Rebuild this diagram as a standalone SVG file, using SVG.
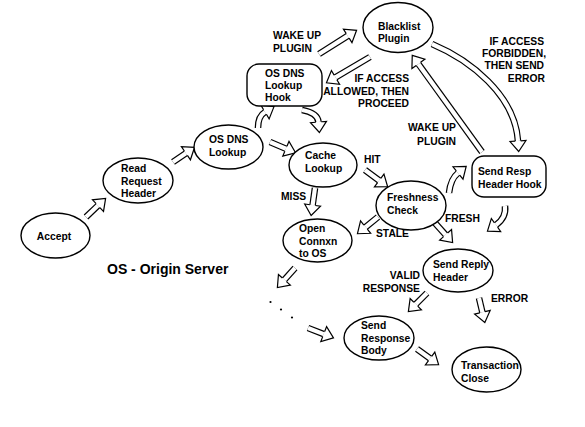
<svg xmlns="http://www.w3.org/2000/svg" width="585" height="427" viewBox="0 0 585 427">
<defs>
<style>
.nd{fill:#fff;stroke:#000;stroke-width:1.4}
text{font-family:"Liberation Sans",Arial,sans-serif;font-weight:bold;font-size:10.3px;fill:#000}
.so{fill:none;stroke:#000;stroke-width:6.6}
.si{fill:none;stroke:#fff;stroke-width:4.2;marker-end:url(#head)}
.r{text-anchor:end}
.c{text-anchor:middle}
</style>
<marker id="head" markerUnits="userSpaceOnUse" orient="auto" refX="0" refY="0" markerWidth="30" markerHeight="30" overflow="visible">
<path d="M0,-2.7 L0,-8 L10.5,0 L0,8 L0,2.7" fill="#fff" stroke="#000" stroke-width="1.2"/>
</marker>
</defs>
<rect width="585" height="427" fill="#fff"/>

<g id="connectors">
<path class="so" d="M86,217 L98,205.6"/><path class="si" d="M86,217 L98,205.6"/>
<path class="so" d="M173,162 L185.9,153.2"/><path class="si" d="M173,162 L185.9,153.2"/>
<path class="so" d="M258,128 C258,120 260,115 265,112"/><path class="si" d="M258,128 C258,120 260,115 265,112"/>
<path class="so" d="M302,110 C313,112 318,116 318.5,122"/><path class="si" d="M302,110 C313,112 318,116 318.5,122"/>
<path class="so" d="M270,142 L285.9,148.7"/><path class="si" d="M270,142 L285.9,148.7"/>
<path class="so" d="M319,54 L347.7,35.9"/><path class="si" d="M319,54 L347.7,35.9"/>
<path class="so" d="M370,57 L335.5,77.4"/><path class="si" d="M370,57 L335.5,77.4"/>
<path class="so" d="M432,44 C470,60 515,95 518,141"/><path class="si" d="M432,44 C470,60 515,95 518,141"/>
<path class="so" d="M482,152 L418.4,63.9"/><path class="si" d="M482,152 L418.4,63.9"/>
<path class="so" d="M365,170 L379.2,180.5"/><path class="si" d="M365,170 L379.2,180.5"/>
<path class="so" d="M315,188 L312.6,205.1"/><path class="si" d="M315,188 L312.6,205.1"/>
<path class="so" d="M378,217 L365.6,227.1"/><path class="si" d="M378,217 L365.6,227.1"/>
<path class="so" d="M435,223 L445.6,234.8"/><path class="si" d="M435,223 L445.6,234.8"/>
<path class="so" d="M449,193 C450,184 453,177 458,173"/><path class="si" d="M449,193 C450,184 453,177 458,173"/>
<path class="so" d="M505,206 C506,214 503,220 496,225"/><path class="si" d="M505,206 C506,214 503,220 496,225"/>
<path class="so" d="M295,268 L284.4,279.8"/><path class="si" d="M295,268 L284.4,279.8"/>
<path class="so" d="M308,328 L323.7,334.1"/><path class="si" d="M308,328 L323.7,334.1"/>
<path class="so" d="M427,293 L415.8,304.2"/><path class="si" d="M427,293 L415.8,304.2"/>
<path class="so" d="M479,298 L482.4,312.3"/><path class="si" d="M479,298 L482.4,312.3"/>
<path class="so" d="M417,349 L430.1,358.5"/><path class="si" d="M417,349 L430.1,358.5"/>
<circle cx="270.5" cy="302" r="1.1"/>
<circle cx="281" cy="309.5" r="1.1"/>
<circle cx="292" cy="317.5" r="1.1"/>
</g>

<g id="accept"><ellipse class="nd" cx="55.5" cy="235.5" rx="34.5" ry="22.5"/><text class="c" x="54" y="239.5">Accept</text></g>
<g id="read-request-header"><ellipse class="nd" cx="138" cy="180.5" rx="35" ry="22.5"/><text x="121" y="172">Read</text><text x="121" y="184.5">Request</text><text x="121" y="197">Header</text></g>
<g id="os-dns-lookup"><ellipse class="nd" cx="228.5" cy="147" rx="34.5" ry="22"/><text x="209" y="143">OS DNS</text><text x="209" y="155.5">Lookup</text></g>
<g id="os-dns-lookup-hook"><rect class="nd" x="247" y="64" width="75" height="42" rx="12"/><text x="265" y="76.5">OS DNS</text><text x="265" y="89">Lookup</text><text x="265" y="101">Hook</text></g>
<g id="blacklist-plugin"><ellipse class="nd" cx="398" cy="27.5" rx="35" ry="25"/><text x="378" y="29.5">Blacklist</text><text x="378" y="42">Plugin</text></g>
<g id="cache-lookup"><ellipse class="nd" cx="323" cy="165" rx="34" ry="22"/><text x="305" y="159">Cache</text><text x="305" y="172">Lookup</text></g>
<g id="freshness-check"><ellipse class="nd" cx="411" cy="205.5" rx="35" ry="24.5"/><text x="387" y="201">Freshness</text><text x="387" y="213.5">Check</text></g>
<g id="send-resp-header-hook"><rect class="nd" x="472" y="156" width="74" height="41" rx="12"/><text x="478" y="175">Send Resp</text><text x="478" y="187.5">Header Hook</text></g>
<g id="open-connxn"><ellipse class="nd" cx="317.5" cy="240.5" rx="34.5" ry="21.5"/><text x="299" y="232">Open</text><text x="299" y="244.5">Connxn</text><text x="299" y="257">to OS</text></g>
<g id="send-reply-header"><ellipse class="nd" cx="458" cy="270.5" rx="35" ry="21.5"/><text x="433" y="268">Send Reply</text><text x="433" y="280.5">Header</text></g>
<g id="send-response-body"><ellipse class="nd" cx="379" cy="338" rx="35" ry="22"/><text x="361" y="329">Send</text><text x="361" y="341.5">Response</text><text x="361" y="354">Body</text></g>
<g id="transaction-close"><ellipse class="nd" cx="486.5" cy="369.5" rx="34.5" ry="22.5"/><text x="461" y="369">Transaction</text><text x="461" y="381.5">Close</text></g>

<g id="labels">
<text x="273" y="39">WAKE UP</text><text x="273" y="52">PLUGIN</text>
<text class="r" x="409" y="82">IF ACCESS</text><text class="r" x="409" y="94.5">ALLOWED, THEN</text><text class="r" x="409" y="106.5">PROCEED</text>
<text class="r" x="544" y="44.5">IF ACCESS</text><text class="r" x="546" y="57">FORBIDDEN,</text><text class="r" x="544" y="69">THEN SEND</text><text class="r" x="545" y="82">ERROR</text>
<text class="r" x="456" y="131">WAKE UP</text><text class="r" x="456" y="144.5">PLUGIN</text>
<text x="364" y="163">HIT</text>
<text x="281" y="200">MISS</text>
<text x="376" y="237">STALE</text>
<text x="445" y="222">FRESH</text>
<text class="r" x="420" y="279">VALID</text><text class="r" x="420" y="291.7">RESPONSE</text>
<text x="491" y="302">ERROR</text>
<text x="107" y="274.3" style="font-size:14px">OS - Origin Server</text>
</g>
</svg>
